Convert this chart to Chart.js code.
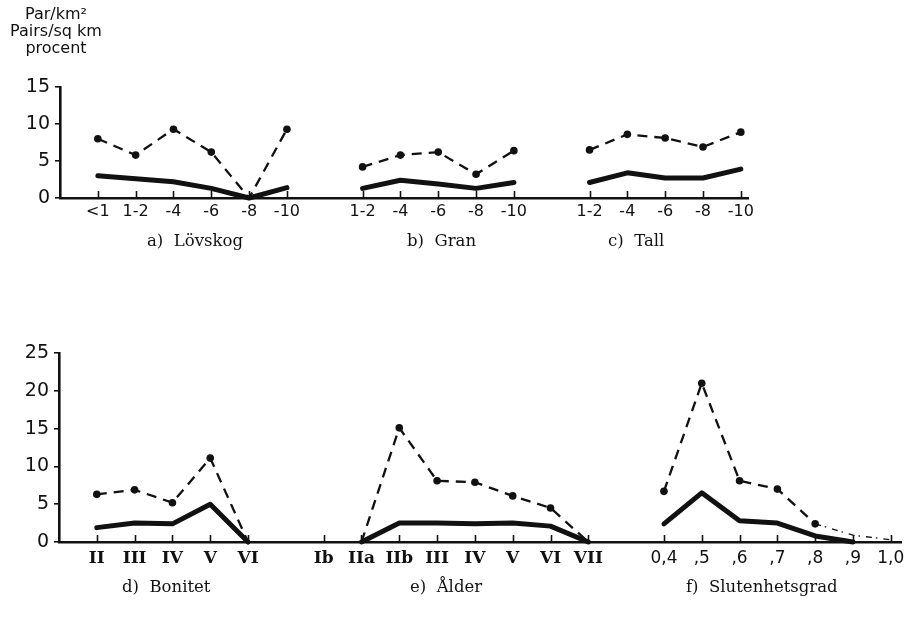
<!DOCTYPE html>
<html>
<head>
<meta charset="utf-8">
<script src="https://cdn.jsdelivr.net/npm/chart.js@4.4.1/dist/chart.umd.min.js"></script>
<style>
  html, body { margin: 0; padding: 0; background: #fff; }
  #wrap { position: relative; width: 919px; height: 621px; overflow: hidden; }
  canvas { position: absolute; left: 0; top: 0; }
  .t { position: absolute; color: #111; white-space: nowrap; }
  .ytitle { font-family: "DejaVu Sans", sans-serif; font-size: 16px; line-height: 17px; text-align: center; left: 0; width: 112px; top: 5px; }
  .cap { font-family: "DejaVu Serif", serif; font-size: 16.5px; }
</style>
</head>
<body>
<div id="wrap">
  <canvas id="top" width="919" height="621"></canvas>
  <canvas id="bottom" width="919" height="621"></canvas>
  <div class="t ytitle">Par/km²<br>Pairs/sq km<br>procent</div>
  <div class="t cap" style="left:147px; top:231px;">a)&nbsp; Lövskog</div>
  <div class="t cap" style="left:407px; top:231px;">b)&nbsp; Gran</div>
  <div class="t cap" style="left:608px; top:231px;">c)&nbsp; Tall</div>
  <div class="t cap" style="left:122px; top:577px;">d)&nbsp; Bonitet</div>
  <div class="t cap" style="left:410px; top:577px;">e)&nbsp; Ålder</div>
  <div class="t cap" style="left:686px; top:577px;">f)&nbsp; Slutenhetsgrad</div>
</div>
<script>
// ---------- data ----------
// top row: a) Lövskog, b) Gran, c) Tall  ('' = gap between groups)
const topCategories = ['<1','1-2','-4','-6','-8','-10','', '1-2','-4','-6','-8','-10','', '1-2','-4','-6','-8','-10'];
const topYTicks = [0, 5, 10, 15];
const lovskogDensity = [8.0, 5.8, 9.3, 6.2, 0, 9.3];
const lovskogPercent = [3.0, 2.6, 2.2, 1.3, 0, 1.4];
const granDensity = [4.2, 5.8, 6.2, 3.2, 6.4];
const granPercent = [1.3, 2.4, 1.9, 1.3, 2.1];
const tallDensity = [6.5, 8.6, 8.1, 6.9, 8.9];
const tallPercent = [2.1, 3.4, 2.7, 2.7, 3.9];

// bottom row: d) Bonitet, e) Ålder, f) Slutenhetsgrad
const bottomCategories = ['II','III','IV','V','VI','', 'Ib','IIa','IIb','III','IV','V','VI','VII','', '0,4',',5',',6',',7',',8',',9','1,0'];
const bottomYTicks = [0, 5, 10, 15, 20, 25];
const bonitetDensity = [6.3, 6.9, 5.2, 11.1, 0];
const bonitetPercent = [1.9, 2.5, 2.4, 5.0, 0];
const alderDensity = [null, 0, 15.1, 8.1, 7.9, 6.1, 4.5, 0];
const alderPercent = [null, 0, 2.5, 2.5, 2.4, 2.5, 2.1, 0];
const slutDensity = [6.7, 21.0, 8.1, 7.0, 2.4, 0.9, 0.3];
const slutPercent = [2.4, 6.5, 2.8, 2.5, 0.8, 0, null];

// ---------- helpers ----------
function groupStarts(labels) {
  const s = [0];
  labels.forEach((l, i) => { if (l === '') s.push(i + 1); });
  return s;
}
function toPoints(values, start) {
  return values.map((v, i) => ({ x: start + i, y: v }));
}
const INK = '#111';
function densitySet(values, start) {
  return {
    data: toPoints(values, start),
    borderColor: INK,
    backgroundColor: INK,
    borderWidth: 2.3,
    borderDash: [10, 7],
    pointRadius: ctx => (ctx.raw && ctx.raw.y >= 1.5 ? 3.8 : 0),
    pointBackgroundColor: INK,
    pointBorderWidth: 0,
    tension: 0,
    clip: false,
    spanGaps: false,
    segment: {
      borderDash: c => (c.p0.parsed.y < 3 && c.p1.parsed.y < 1.5 ? [6, 4, 1.5, 6] : undefined),
      borderWidth: c => (c.p0.parsed.y < 3 && c.p1.parsed.y < 1.5 ? 1.3 : undefined)
    }
  };
}
function percentSet(values, start) {
  return {
    data: toPoints(values, start),
    borderColor: INK,
    backgroundColor: INK,
    borderWidth: 5,
    borderCapStyle: 'round',
    borderJoinStyle: 'round',
    pointRadius: 0,
    tension: 0,
    clip: false,
    spanGaps: false
  };
}

const upTicks = {
  id: 'upTicks',
  afterDatasetsDraw(chart) {
    const x = chart.scales.x;
    const ctx = chart.ctx;
    ctx.save();
    ctx.strokeStyle = INK;
    ctx.lineWidth = 1.6;
    x.ticks.forEach(t => {
      const px = Math.round(x.getPixelForValue(t.value)) + 0.5;
      ctx.beginPath();
      ctx.moveTo(px, x.top);
      ctx.lineTo(px, x.top - 7);
      ctx.stroke();
    });
    ctx.restore();
  }
};

function makeChart(id, labels, yTicks, datasets, geom, xFont) {
  return new Chart(document.getElementById(id), {
    type: 'line',
    data: { datasets },
    plugins: [upTicks],
    options: {
      responsive: false,
      animation: false,
      devicePixelRatio: 1,
      events: [],
      layout: { padding: { left: 0, top: geom.top, right: geom.right, bottom: geom.bottom } },
      plugins: { legend: { display: false }, tooltip: { enabled: false } },
      scales: {
        x: {
          type: 'linear',
          min: -1,
          max: geom.xmax,
          afterBuildTicks: s => {
            s.ticks = labels.map((l, i) => ({ value: i, label: l })).filter(t => t.label !== '');
          },
          afterFit: s => { s.height = 30; },
          grid: { display: false, drawTicks: false },
          border: { display: true, color: INK, width: 2.6 },
          ticks: {
            autoSkip: false,
            maxRotation: 0,
            color: INK,
            padding: geom.xpad,
            font: xFont,
            callback: v => labels[v]
          }
        },
        y: {
          min: 0,
          max: yTicks[yTicks.length - 1],
          afterBuildTicks: s => { s.ticks = yTicks.map(v => ({ value: v })); },
          afterFit: s => { s.width = geom.left; },
          grid: { drawOnChartArea: false, drawTicks: true, tickLength: 5, color: INK, lineWidth: 1.6 },
          border: { display: true, color: INK, width: 2.6 },
          ticks: {
            color: INK,
            padding: 5,
            font: { family: 'DejaVu Sans', size: 19 },
            callback: v => String(v)
          }
        }
      }
    }
  });
}

// ---------- top row ----------
const ts = groupStarts(topCategories);
makeChart('top', topCategories, topYTicks, [
  densitySet(lovskogDensity, ts[0]), percentSet(lovskogPercent, ts[0]),
  densitySet(granDensity, ts[1]), percentSet(granPercent, ts[1]),
  densitySet(tallDensity, ts[2]), percentSet(tallPercent, ts[2])
], { top: 87, right: 171, bottom: 621 - 198 - 30, left: 60, xmax: 17.19, xpad: 4 },
   { family: 'DejaVu Sans', size: 16 });

// ---------- bottom row ----------
const bs = groupStarts(bottomCategories);
const romanEnd = bs[2] - 1;
makeChart('bottom', bottomCategories, bottomYTicks, [
  densitySet(bonitetDensity, bs[0]), percentSet(bonitetPercent, bs[0]),
  densitySet(alderDensity, bs[1]), percentSet(alderPercent, bs[1]),
  densitySet(slutDensity, bs[2]), percentSet(slutPercent, bs[2])
], { top: 353, right: 18, bottom: 621 - 542 - 30, left: 59, xmax: 21.27, xpad: 6 },
   ctx => (ctx.tick && ctx.tick.value < romanEnd
      ? { family: 'DejaVu Serif', size: 17, weight: 'bold' }
      : { family: 'DejaVu Sans', size: 17 }));
</script>
</body>
</html>
